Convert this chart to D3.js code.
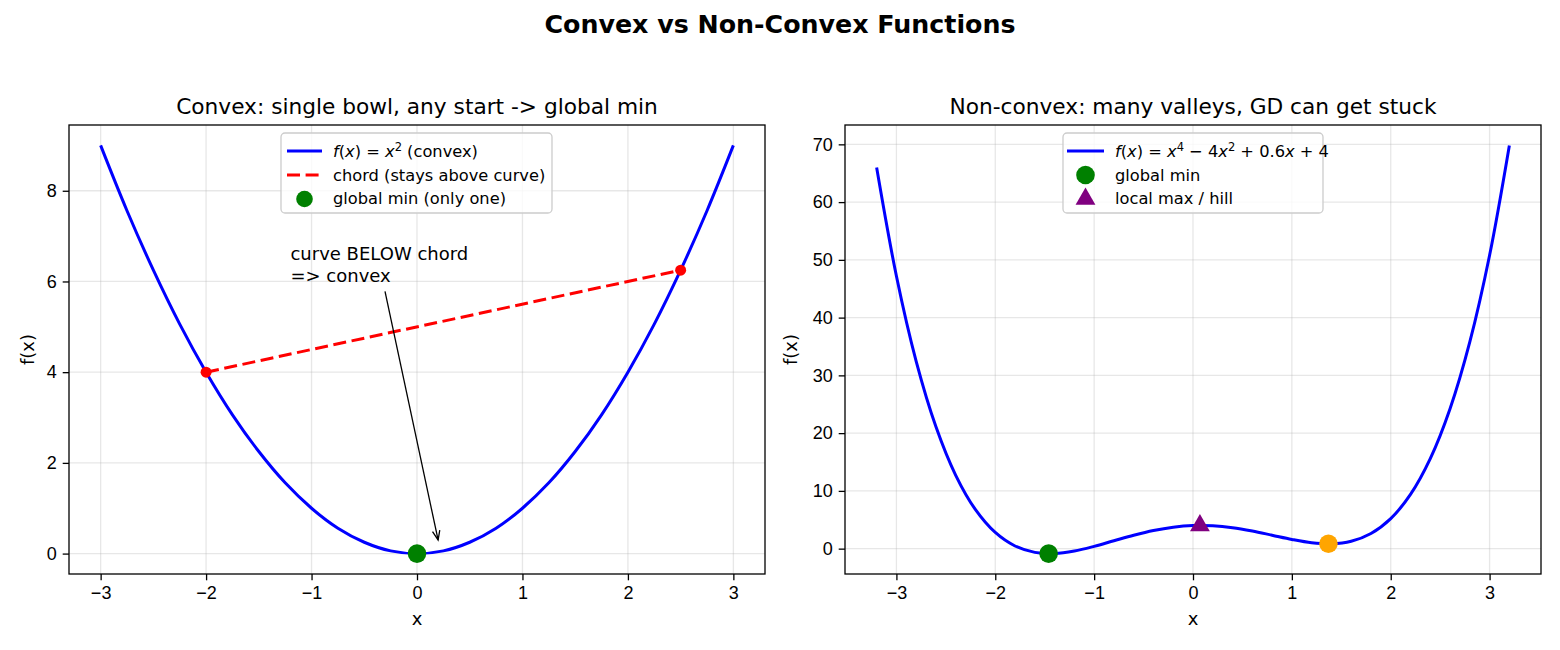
<!DOCTYPE html>
<html>
<head>
<meta charset="utf-8">
<script src="https://cdn.jsdelivr.net/npm/d3@7"></script>
<style>
  body { margin: 0; background: #fff; }
  svg { font-family: "DejaVu Sans", sans-serif; }
  .grid line { stroke: #b0b0b0; stroke-opacity: 0.3; stroke-width: 1.3; }
  .axis path, .axis line { stroke: #000; stroke-width: 1.3; }
  .axis text { font-size: 18px; fill: #000; }
</style>
</head>
<body>
<div id="chart"></div>
<script>
// ---- data ----
// convex panel: f(x) = x^2
var convexX = [-3, -2.75, -2.5, -2.25, -2, -1.75, -1.5, -1.25, -1, -0.75, -0.5, -0.25, 0,
               0.25, 0.5, 0.75, 1, 1.25, 1.5, 1.75, 2, 2.25, 2.5, 2.75, 3];
var convexY = [9, 7.56, 6.25, 5.06, 4, 3.06, 2.25, 1.56, 1, 0.56, 0.25, 0.06, 0,
               0.06, 0.25, 0.56, 1, 1.56, 2.25, 3.06, 4, 5.06, 6.25, 7.56, 9];
var chordX = [-2, 2.5];
var chordY = [4, 6.25];
var convexMin = [0, 0];

// non-convex panel: f(x) = x^4 - 4x^2 + 0.6x + 4
var nonConvexX = [-3.2, -3.0, -2.8, -2.6, -2.4, -2.2, -2.0, -1.8, -1.6, -1.4, -1.2, -1.0, -0.8,
                  -0.6, -0.4, -0.2, 0, 0.2, 0.4, 0.6, 0.8, 1.0, 1.2, 1.4, 1.6, 1.8, 2.0,
                  2.2, 2.4, 2.6, 2.8, 3.0, 3.2];
var nonConvexY = [65.98, 47.2, 32.43, 21.1, 12.7, 6.75, 2.8, 0.46, -0.65, -0.84, -0.41, 0.4, 1.37,
                  2.33, 3.15, 3.72, 4, 3.96, 3.63, 3.05, 2.33, 1.6, 1.03, 0.84, 1.27, 2.62, 5.2,
                  9.39, 15.58, 24.22, 35.79, 50.8, 69.82];
var globalMin = [-1.46, -0.87];
var localMax = [0.07, 4.02];
var localMin = [1.37, 0.84];

var xTicks = [-3, -2, -1, 0, 1, 2, 3];
var convexYTicks = [0, 2, 4, 6, 8];
var nonConvexYTicks = [0, 10, 20, 30, 40, 50, 60, 70];

// ---- layout ----
var W = 1560, H = 650;
var plotTop = 125, plotBottom = 574;

var svg = d3.select("#chart").append("svg")
    .attr("width", W).attr("height", H);

svg.append("text")
    .attr("x", W / 2).attr("y", 33)
    .attr("text-anchor", "middle")
    .style("font-size", "25.3px").style("font-weight", "bold")
    .text("Convex vs Non-Convex Functions");

// draws frame, grid, ticks, labels; returns scales + group
function makePanel(left, right, xDom, yDom, yTicks, title, ylabelX) {
  var x = d3.scaleLinear().domain(xDom).range([left, right]);
  var y = d3.scaleLinear().domain(yDom).range([plotBottom, plotTop]);
  var g = svg.append("g");

  // grid
  var grid = g.append("g").attr("class", "grid");
  grid.selectAll(".gx").data(xTicks).enter().append("line")
      .attr("x1", d => x(d)).attr("x2", d => x(d))
      .attr("y1", plotTop).attr("y2", plotBottom);
  grid.selectAll(".gy").data(yTicks).enter().append("line")
      .attr("x1", left).attr("x2", right)
      .attr("y1", d => y(d)).attr("y2", d => y(d));

  var clipId = "clip" + Math.round(left);
  svg.append("clipPath").attr("id", clipId).append("rect")
      .attr("x", left).attr("y", plotTop).attr("width", right - left).attr("height", plotBottom - plotTop);
  var plot = g.append("g").attr("clip-path", "url(#" + clipId + ")");

  var ax = g.append("g").attr("class", "axis")
      .attr("transform", "translate(0," + plotBottom + ")")
      .call(d3.axisBottom(x).tickValues(xTicks).tickSize(6.3).tickPadding(6)
            .tickFormat(d => d < 0 ? "\u2212" + Math.abs(d) : d));
  ax.select(".domain").remove();
  var ay = g.append("g").attr("class", "axis")
      .attr("transform", "translate(" + left + ",0)")
      .call(d3.axisLeft(y).tickValues(yTicks).tickSize(6.3).tickPadding(6));
  ay.select(".domain").remove();

  g.append("rect")
      .attr("x", left).attr("y", plotTop)
      .attr("width", right - left).attr("height", plotBottom - plotTop)
      .attr("fill", "none").attr("stroke", "#000").attr("stroke-width", 1.3);

  g.append("text")
      .attr("x", (left + right) / 2).attr("y", 114)
      .attr("text-anchor", "middle").style("font-size", "21.7px")
      .text(title);
  g.append("text")
      .attr("x", (left + right) / 2).attr("y", 625)
      .attr("text-anchor", "middle").style("font-size", "18px")
      .text("x");
  g.append("text")
      .attr("transform", "translate(" + ylabelX + "," + ((plotTop + plotBottom) / 2) + ") rotate(-90)")
      .attr("text-anchor", "middle").attr("dy", "0.35em").style("font-size", "18px")
      .text("f(x)");

  return {x: x, y: y, g: g, plot: plot};
}

// writes mathtext-like label using parts [text, style]
function mathLabel(sel, parts) {
  parts.forEach(function(p) {
    var t = sel.append("tspan").text(p[0]);
    if (p[1] === "i") t.style("font-style", "italic");
    if (p[1] === "sup") t.attr("dy", -6.5).style("font-size", "11.5px");
    if (p[1] === "after") t.attr("dy", 6.5);
  });
}

function legendBox(g, x0, y0, w, h) {
  g.append("rect")
      .attr("x", x0).attr("y", y0).attr("width", w).attr("height", h)
      .attr("rx", 4)
      .attr("fill", "#fff").attr("fill-opacity", 0.8)
      .attr("stroke", "#cccccc").attr("stroke-width", 1.3);
}

var line = d3.line().curve(d3.curveCatmullRom);

// ---- left: convex ----
var L = makePanel(69, 765, [-3.3, 3.3], [-0.45, 9.45], convexYTicks,
                  "Convex: single bowl, any start -> global min", 28);

L.plot.append("path")
    .datum(convexX.map((d, i) => [L.x(d), L.y(convexY[i])]))
    .attr("d", line)
    .attr("fill", "none").attr("stroke", "#0000ff").attr("stroke-width", 3);

L.plot.append("path")
    .datum(chordX.map((d, i) => [L.x(d), L.y(chordY[i])]))
    .attr("d", d3.line())
    .attr("fill", "none").attr("stroke", "#ff0000").attr("stroke-width", 3)
    .attr("stroke-dasharray", "13,5.6");

L.plot.selectAll(".cd").data(chordX).enter().append("circle")
    .attr("cx", d => L.x(d)).attr("cy", (d, i) => L.y(chordY[i]))
    .attr("r", 5.5).attr("fill", "#ff0000");

L.plot.append("circle")
    .attr("cx", L.x(convexMin[0])).attr("cy", L.y(convexMin[1]))
    .attr("r", 9.3).attr("fill", "#008000");

// annotation
var ann = L.g.append("text").style("font-size", "18px");
ann.append("tspan").attr("x", L.x(-1.2)).attr("y", L.y(6) - 21).text("curve BELOW chord");
ann.append("tspan").attr("x", L.x(-1.2)).attr("y", L.y(6) + 1).text("=> convex");
var ax0 = 385, ay0 = L.y(6) + 10, ax1 = L.x(0.2), ay1 = L.y(0.3);
L.g.append("line")
    .attr("x1", ax0).attr("y1", ay0).attr("x2", ax1).attr("y2", ay1)
    .attr("stroke", "#000").attr("stroke-width", 1.3);
var ang = Math.atan2(ay1 - ay0, ax1 - ax0);
var hl = 10, hw = 0.38;
L.g.append("path")
    .attr("d", "M" + (ax1 - hl * Math.cos(ang - hw)) + "," + (ay1 - hl * Math.sin(ang - hw)) +
               "L" + ax1 + "," + ay1 +
               "L" + (ax1 - hl * Math.cos(ang + hw)) + "," + (ay1 - hl * Math.sin(ang + hw)))
    .attr("fill", "none").attr("stroke", "#000").attr("stroke-width", 1.3);

// legend left
legendBox(L.g, 281, 133, 271, 80);
L.g.append("line").attr("x1", 287).attr("x2", 322).attr("y1", 151).attr("y2", 151)
    .attr("stroke", "#0000ff").attr("stroke-width", 3);
L.g.append("line").attr("x1", 287).attr("x2", 322).attr("y1", 175).attr("y2", 175)
    .attr("stroke", "#ff0000").attr("stroke-width", 3).attr("stroke-dasharray", "13,5.6");
L.g.append("circle").attr("cx", 304.5).attr("cy", 199).attr("r", 8.3).attr("fill", "#008000");
var l1 = L.g.append("text").attr("x", 333).attr("y", 157).style("font-size", "16.25px");
mathLabel(l1, [["f", "i"], ["("], ["x", "i"], [") = "], ["x", "i"], ["2", "sup"], [" (convex)", "after"]]);
L.g.append("text").attr("x", 333).attr("y", 181).style("font-size", "16.25px")
    .text("chord (stays above curve)");
L.g.append("text").attr("x", 333).attr("y", 204).style("font-size", "16.25px")
    .text("global min (only one)");

// ---- right: non-convex ----
var R = makePanel(845, 1541, [-3.52, 3.52], [-4.39, 73.35], nonConvexYTicks,
                  "Non-convex: many valleys, GD can get stuck", 791);

R.plot.append("path")
    .datum(nonConvexX.map((d, i) => [R.x(d), R.y(nonConvexY[i])]))
    .attr("d", line)
    .attr("fill", "none").attr("stroke", "#0000ff").attr("stroke-width", 3);

R.plot.append("circle")
    .attr("cx", R.x(globalMin[0])).attr("cy", R.y(globalMin[1]))
    .attr("r", 9.3).attr("fill", "#008000");
R.plot.append("circle")
    .attr("cx", R.x(localMin[0])).attr("cy", R.y(localMin[1]))
    .attr("r", 9.3).attr("fill", "#ffa500");
R.plot.append("path")
    .attr("transform", "translate(" + R.x(localMax[0]) + "," + R.y(localMax[1]) + ")")
    .attr("d", d3.symbol().type(d3.symbolTriangle).size(170))
    .attr("fill", "#800080");

// legend right
legendBox(R.g, 1063, 133, 260, 80);
R.g.append("line").attr("x1", 1067).attr("x2", 1104).attr("y1", 151).attr("y2", 151)
    .attr("stroke", "#0000ff").attr("stroke-width", 3);
R.g.append("circle").attr("cx", 1085.5).attr("cy", 175).attr("r", 9.3).attr("fill", "#008000");
R.g.append("path")
    .attr("transform", "translate(1085.5,199)")
    .attr("d", d3.symbol().type(d3.symbolTriangle).size(170))
    .attr("fill", "#800080");
var r1 = R.g.append("text").attr("x", 1115).attr("y", 157).style("font-size", "16.25px");
mathLabel(r1, [["f", "i"], ["("], ["x", "i"], [") = "], ["x", "i"], ["4", "sup"],
               [" \u2212 4", "after"], ["x", "i"], ["2", "sup"], [" + 0.6", "after"],
               ["x", "i"], [" + 4"]]);
R.g.append("text").attr("x", 1115).attr("y", 181).style("font-size", "16.25px")
    .text("global min");
R.g.append("text").attr("x", 1115).attr("y", 204).style("font-size", "16.25px")
    .text("local max / hill");
</script>
</body>
</html>
